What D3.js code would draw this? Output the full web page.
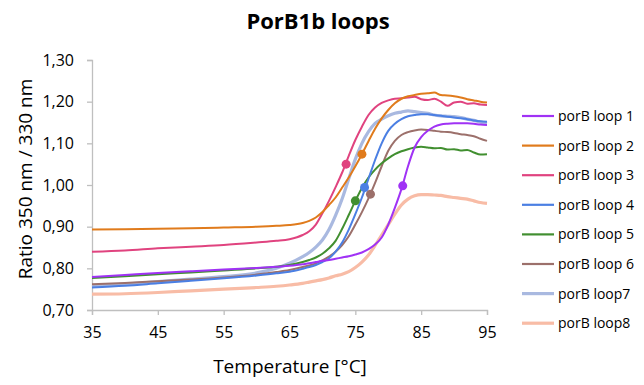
<!DOCTYPE html>
<html>
<head>
<meta charset="utf-8">
<script src="https://cdn.jsdelivr.net/npm/d3@7"></script>
<style>
  body { margin: 0; background: #fff; }
  text { font-family: "Open Sans", sans-serif; fill: #000; }
</style>
</head>
<body>
<div id="chart"></div>
<script>
// temperature grid (°C)
const temps = [35,40,45,50,55,60,63,65,67,68,69,70,71,72,73,74,75,76,77,78,79,80,81,82,83,84,85,86,87,88,89,90,91,92,93,94,95];

// ratio 350/330 per series
const loop1 = [.779,.784,.789,.793,.797,.801,.804,.806,.810,.812,.815,.818,.820,.823,.826,.829,.833,.838,.846,.857,.874,.905,.945,.990,1.045,1.09,1.115,1.13,1.14,1.145,1.147,1.148,1.148,1.148,1.147,1.145,1.144];
const loop2 = [.893,.894,.895,.896,.898,.900,.902,.904,.909,.914,.922,.935,.952,.970,.994,1.018,1.045,1.074,1.105,1.135,1.16,1.18,1.196,1.207,1.213,1.216,1.219,1.22,1.222,1.216,1.215,1.213,1.21,1.206,1.203,1.2,1.198];
const loop3 = [.840,.843,.848,.852,.856,.862,.866,.870,.880,.889,.905,.932,.962,.995,1.03,1.07,1.108,1.14,1.168,1.186,1.197,1.203,1.207,1.208,1.21,1.212,1.206,1.204,1.207,1.2,1.19,1.198,1.2,1.195,1.196,1.193,1.192];
const loop4 = [.754,.758,.764,.770,.776,.783,.788,.792,.799,.803,.808,.815,.824,.840,.862,.893,.930,.970,1.015,1.06,1.1,1.13,1.147,1.158,1.165,1.168,1.17,1.17,1.168,1.166,1.164,1.162,1.16,1.158,1.155,1.153,1.152];
const loop5 = [.777,.781,.786,.790,.795,.800,.804,.808,.815,.820,.826,.835,.848,.866,.895,.928,.962,.993,1.018,1.037,1.052,1.064,1.074,1.081,1.086,1.09,1.092,1.09,1.088,1.089,1.085,1.086,1.083,1.084,1.078,1.073,1.074];
const loop6 = [.762,.765,.769,.773,.778,.785,.791,.796,.803,.807,.812,.819,.828,.840,.856,.877,.905,.935,.968,1.005,1.045,1.082,1.106,1.12,1.127,1.131,1.133,1.132,1.13,1.128,1.127,1.125,1.122,1.12,1.117,1.111,1.106];
const loop7 = [.757,.762,.768,.774,.780,.789,.800,.812,.828,.838,.851,.868,.893,.927,.967,1.015,1.062,1.1,1.128,1.148,1.158,1.166,1.172,1.175,1.178,1.176,1.174,1.172,1.168,1.166,1.165,1.164,1.162,1.158,1.155,1.151,1.148];
const loop8 = [.738,.739,.742,.746,.750,.754,.757,.760,.764,.767,.770,.773,.777,.782,.786,.792,.802,.815,.832,.855,.88,.905,.93,.952,.966,.974,.977,.977,.976,.975,.972,.97,.968,.966,.962,.958,.956];

const seriesNames = ["porB loop 1","porB loop 2","porB loop 3","porB loop 4","porB loop 5","porB loop 6","porB loop7","porB loop8"];
const seriesValues = [loop1, loop2, loop3, loop4, loop5, loop6, loop7, loop8];
const seriesColors = ["#a032f5","#e07b1c","#e0437f","#4b7fe3","#418f30","#9c706b","#a9b9e0","#f8bca6"];
const seriesWidths = [2, 2, 2, 2, 2, 2, 3.2, 3.2];

// midpoint markers (Tm) for loops 1-6
const markerT = [82.2, 76.0, 73.6, 76.4, 75.0, 77.3];
const markerV = [0.998, 1.074, 1.05, 0.994, 0.962, 0.978];

const yTicks = [0.7, 0.8, 0.9, 1.0, 1.1, 1.2, 1.3];
const xTicks = [35, 45, 55, 65, 75, 85, 95];

const W = 644, H = 385;
const margin = { top: 60, right: 157, bottom: 75, left: 92 },
    width = W - margin.left - margin.right,
    height = H - margin.top - margin.bottom;

const svg = d3.select("#chart")
    .append("svg")
    .attr("width", W)
    .attr("height", H);

const g = svg.append("g")
    .attr("transform", `translate(${margin.left}, ${margin.top})`);

const x = d3.scaleLinear().domain([35, 95]).range([0, width]);
const y = d3.scaleLinear().domain([0.7, 1.3]).range([height, 0]);

// title
svg.append("text")
    .attr("x", 318).attr("y", 29)
    .attr("text-anchor", "middle")
    .style("font-size", "22px").style("font-weight", "bold")
    .text("PorB1b loops");

// axes
const xAxis = g.append("g")
    .attr("transform", `translate(0, ${height})`)
    .call(d3.axisBottom(x).tickValues(xTicks).tickSize(5).tickPadding(13).tickFormat(d3.format("d")));
const yAxis = g.append("g")
    .call(d3.axisLeft(y).tickValues(yTicks).tickSize(5).tickPadding(13)
        .tickFormat(d => d3.format(".2f")(d).replace(".", ",")));

[xAxis, yAxis].forEach(a => {
    a.select(".domain").attr("stroke", "#bfbfbf").attr("stroke-width", 1.3);
    a.selectAll(".tick line").attr("stroke", "#bfbfbf").attr("stroke-width", 1.3);
    a.selectAll(".tick text").style("font-size", "16px").style("font-family", "Open Sans").attr("fill", "#000");
});
xAxis.selectAll(".tick text").attr("dy", "0.6em");

// axis labels
svg.append("text")
    .attr("x", 290).attr("y", 373)
    .attr("text-anchor", "middle")
    .style("font-size", "19px")
    .text("Temperature [°C]");

svg.append("text")
    .attr("transform", "translate(32, 179) rotate(-90)")
    .attr("text-anchor", "middle")
    .style("font-size", "19px")
    .text("Ratio 350 nm / 330 nm");

// lines
const line = d3.line()
    .x(d => x(d.t))
    .y(d => y(d.v))
    .curve(d3.curveMonotoneX);

// draw in reverse so loop 1 ends on top
for (let i = seriesValues.length - 1; i >= 0; i--) {
    const data = temps.map((t, j) => ({ t: t, v: seriesValues[i][j] }));
    g.append("path")
        .datum(data)
        .attr("d", line)
        .attr("fill", "none")
        .attr("stroke", seriesColors[i])
        .attr("stroke-width", seriesWidths[i])
        .attr("stroke-linejoin", "round");
}

// markers
g.selectAll(".marker")
    .data(markerT)
    .enter()
    .append("circle")
    .attr("cx", d => x(d))
    .attr("cy", (d, i) => y(markerV[i]))
    .attr("r", 4.5)
    .attr("fill", (d, i) => seriesColors[i]);

// legend
const legend = svg.append("g").attr("transform", "translate(522, 116)");
seriesNames.forEach((name, i) => {
    const row = legend.append("g").attr("transform", `translate(0, ${i * 29.6})`);
    row.append("line")
        .attr("x1", 0).attr("x2", 32)
        .attr("stroke", seriesColors[i])
        .attr("stroke-width", seriesWidths[i] === 2 ? 2.2 : 3.2);
    row.append("text")
        .attr("x", 36).attr("y", 0).attr("dy", "0.35em")
        .style("font-size", "14px")
        .text(name);
});
</script>
</body>
</html>
